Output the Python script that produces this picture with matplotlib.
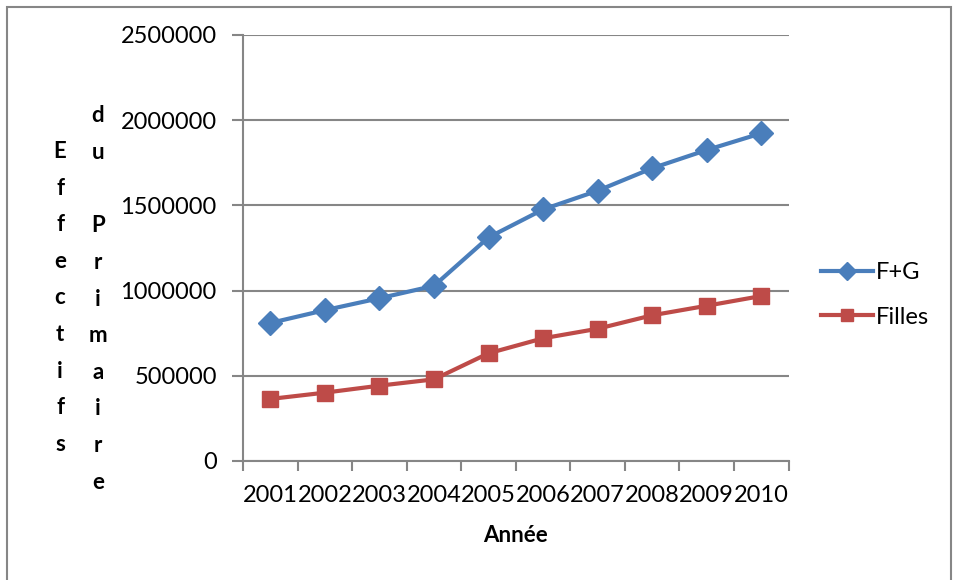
import matplotlib
matplotlib.use('Agg')
from matplotlib import pyplot as plt
from matplotlib.patches import Rectangle

years = ['2001', '2002', '2003', '2004', '2005', '2006', '2007', '2008', '2009', '2010']
total = [810000, 885000, 955000, 1028000, 1312000, 1476000, 1586000, 1718000, 1825000, 1923000]
filles = [364000, 401000, 442000, 479000, 632000, 720000, 776000, 855000, 911000, 968000]

plt.rcParams['font.family'] = ['Lato', 'DejaVu Sans']
grey = '#868686'

fig = plt.figure(figsize=(9.57, 5.80), dpi=100)
ax = fig.add_axes([0.254, 0.2052, 0.570, 0.7345])

# cadre du graphique
fig.patches.append(Rectangle((0.007, -0.05), 0.987, 1.038, transform=fig.transFigure,
                             fill=False, edgecolor=grey, linewidth=1.5))

x = range(len(years))
ax.plot(x, total, color='#4A7EBB', linewidth=3, marker='D', markersize=12, label='F+G')
ax.plot(x, filles, color='#BE4B48', linewidth=3, marker='s', markersize=12, label='Filles')

ax.set_xlim(-0.5, len(years) - 0.5)
ax.set_ylim(0, 2500000)
ax.set_yticks(range(0, 2500001, 500000))
ax.set_yticklabels([str(v) for v in range(0, 2500001, 500000)])
ax.yaxis.grid(True, color=grey, linewidth=1.5)
ax.set_axisbelow(True)

# ticks aux limites des catégories, libellés au centre
ax.set_xticks([i - 0.5 for i in range(len(years) + 1)])
ax.set_xticklabels([])
ax.set_xticks(list(x), minor=True)
ax.set_xticklabels(years, minor=True)
ax.tick_params(axis='x', which='major', length=7, width=1.5, color=grey)
ax.tick_params(axis='x', which='minor', length=0, pad=17, labelsize=17)
ax.tick_params(axis='y', length=8, width=1.5, color=grey, pad=11, labelsize=17)

for side in ['top', 'right']:
    ax.spines[side].set_visible(False)
for side in ['left', 'bottom']:
    ax.spines[side].set_color(grey)
    ax.spines[side].set_linewidth(1.5)

fig.text(0.539, 1 - 535 / 580, 'Année', ha='center', va='center', fontsize=16, fontweight='bold')
fig.text(0.0627, 1 - 298 / 580, '\n'.join('Effectifs'), ha='center', va='center',
         fontsize=16, fontweight='bold', linespacing=1.92)
fig.text(0.1024, 1 - 299 / 580, '\n'.join('du Primaire'), ha='center', va='center',
         fontsize=16, fontweight='bold', linespacing=1.92)

ax.legend(loc='center left', bbox_to_anchor=(1.02, 0.39), frameon=False, fontsize=17,
          handlelength=2.2, handletextpad=0.15, labelspacing=1.0, markerscale=0.75)

fig.savefig('out.png', dpi=100)
